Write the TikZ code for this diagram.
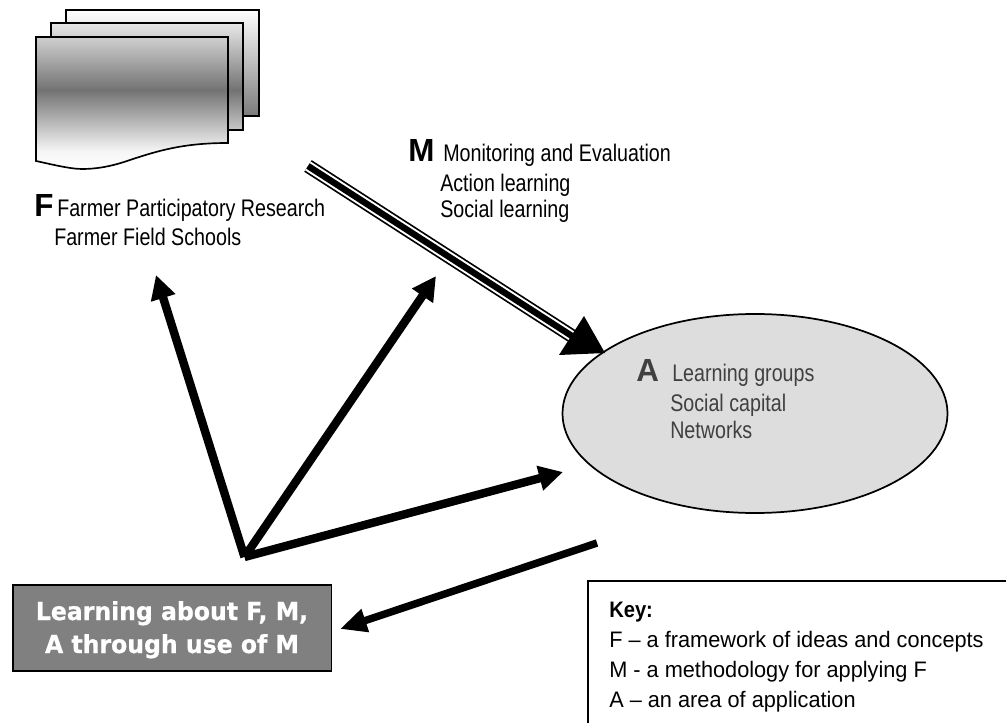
\documentclass[tikz,border=0pt]{standalone}
\usepackage{fontspec}
\usetikzlibrary{arrows.meta,shapes.geometric}
\setmainfont{Liberation Sans}
\newfontfamily\narrowfont[FakeStretch=0.82]{Liberation Sans}
\newfontfamily\narrowbold[FakeStretch=0.98]{Liberation Sans}
\newfontfamily\keyfont[FakeStretch=0.97]{Liberation Sans}
\newfontfamily\keybold[FakeStretch=0.9]{Liberation Sans}
\newfontfamily\boxfont[FakeStretch=0.95,BoldFeatures={FakeBold=0.7}]{DejaVu Sans}
\definecolor{ellfill}{HTML}{DDDDDD}
\definecolor{ellink}{HTML}{404040}
\definecolor{boxfill}{HTML}{808080}
\pgfdeclareverticalshading{docall}{100bp}{color(0bp)=(white);color(25bp)=(white);color(31bp)=(white!96!black);color(50bp)=(black!55);color(75bp)=(white);color(100bp)=(white)}
\pgfdeclareverticalshading{docback}{100bp}{color(0bp)=(black!52);color(25bp)=(black!52);color(75bp)=(white);color(100bp)=(white)}
\tikzset{
  lab/.style={anchor=base west,inner sep=0pt,font=\narrowfont\fontsize{18pt}{20pt}\selectfont,text=black},
  big/.style={anchor=base west,inner sep=0pt,font=\narrowbold\bfseries\fontsize{24pt}{28pt}\selectfont,text=black},
  inell/.style={text=ellink},
  sheet/.style={draw=black,line width=1.25pt,line join=miter},
  thick arrow/.style={line width=6.3pt,-{Triangle[length=18pt,width=18pt]}},
  keytext/.style={anchor=base west,inner sep=0pt,font=\keyfont\fontsize{16.8pt}{20pt}\selectfont},
  boxtext/.style={inner sep=0pt,anchor=base,text=white,font=\boxfont\bfseries\fontsize{18.6pt}{20pt}\selectfont},
}
\begin{document}
\begin{tikzpicture}[x=0.75pt,y=-0.75pt]
\useasboundingbox (0,0) rectangle (1006,723);
\clip (0,0) rectangle (1006,723);
\fill[white] (0,0) rectangle (1006,723);
% document stack
\begin{scope}
\clip (66,10) rectangle (259,116);
\shade[shading=docback] (66,10) rectangle (259,116);
\end{scope}
\draw[sheet] (66,10) rectangle (259,116);
\begin{scope}
\clip (51,23) rectangle (243,130);
\shade[shading=docall] (30,10) rectangle (270,170);
\end{scope}
\draw[sheet] (51,23) rectangle (243,130);
\def\frontpath{(36,37) -- (228,37) -- (228,143) .. controls (185,143) and (160,150) .. (130,160) .. controls (110,167) and (95,169) .. (82,169) .. controls (70,169) and (50,164) .. (36,161) -- cycle}
\begin{scope}
\clip \frontpath;
\shade[shading=docall] (30,10) rectangle (270,170);
\end{scope}
\draw[sheet] \frontpath;
% ellipse
\node[draw=black,fill=ellfill,line width=1.3pt,ellipse,minimum width=288.75pt,minimum height=149.25pt,inner sep=0pt] (area) at (755,413.5) {};
% connector anchors
\coordinate (apex) at (244.5,557);
\coordinate (toF) at (156,275);
\coordinate (toM) at (436,276);
\coordinate (toA) at (563,472);
\coordinate (fromA) at (597,543);
\coordinate (toLearn) at (340,629);
\coordinate (mstart) at (308,166);
\coordinate (mend) at (575,338);
\coordinate (mtip) at (605,353);
\coordinate (mleft) at (584,316);
\coordinate (mright) at (559,355);
% triple arrow
\draw[line width=10.4pt,black] (mstart) -- (mend);
\draw[line width=7.8pt,white] (mstart) -- (mend);
\draw[line width=4.8pt,black] (mstart) -- (mend);
\fill[black] (mtip) -- (mleft) -- (mright) -- cycle;
% thick arrows
\draw[thick arrow] (apex) -- (toF);
\draw[thick arrow] (apex) -- (toM);
\draw[thick arrow] (apex) -- (toA);
\draw[line width=5.6pt,-{Triangle[length=20pt,width=17pt]}] (fromA) -- (toLearn);
% grey box
\node[draw=black,fill=boxfill,line width=1.3pt,minimum width=239pt,minimum height=64.5pt,inner sep=0pt,anchor=north west] (learn) at (12,584) {};
\node[boxtext] (learna) at (172,620) {Learning about F, M,};
\node[boxtext] (learnb) at (172,653) {A through use of M};
% texts F
\node[big] (fl) at (34,217) {F};
\node[lab] (f1) at (57,217) {Farmer Participatory Research};
\node[lab] (f2) at (54,246) {Farmer Field Schools};
% texts M
\node[big] (ml) at (408,162) {M};
\node[lab] (m1) at (443,162) {Monitoring and Evaluation};
\node[lab] (m2) at (440,192) {Action learning};
\node[lab] (m3) at (440,218) {Social learning};
% texts A
\node[big,inell] (al) at (636,381) {A};
\node[lab,inell] (a1) at (672,382) {Learning groups};
\node[lab,inell] (a2) at (670,411) {Social capital};
\node[lab,inell] (a3) at (670,438) {Networks};
% key
\draw[draw=black,line width=1.2pt] (588,581) rectangle (1040,760);
\node[keytext,font=\keybold\bfseries\fontsize{16.8pt}{20pt}\selectfont] (k0) at (609,617) {Key:};
\node[keytext] (k1) at (609,647) {F – a framework of ideas and concepts};
\node[keytext] (k2) at (609,677) {M - a methodology for applying F};
\node[keytext] (k3) at (609,707) {A – an area of application};
\end{tikzpicture}
\end{document}
